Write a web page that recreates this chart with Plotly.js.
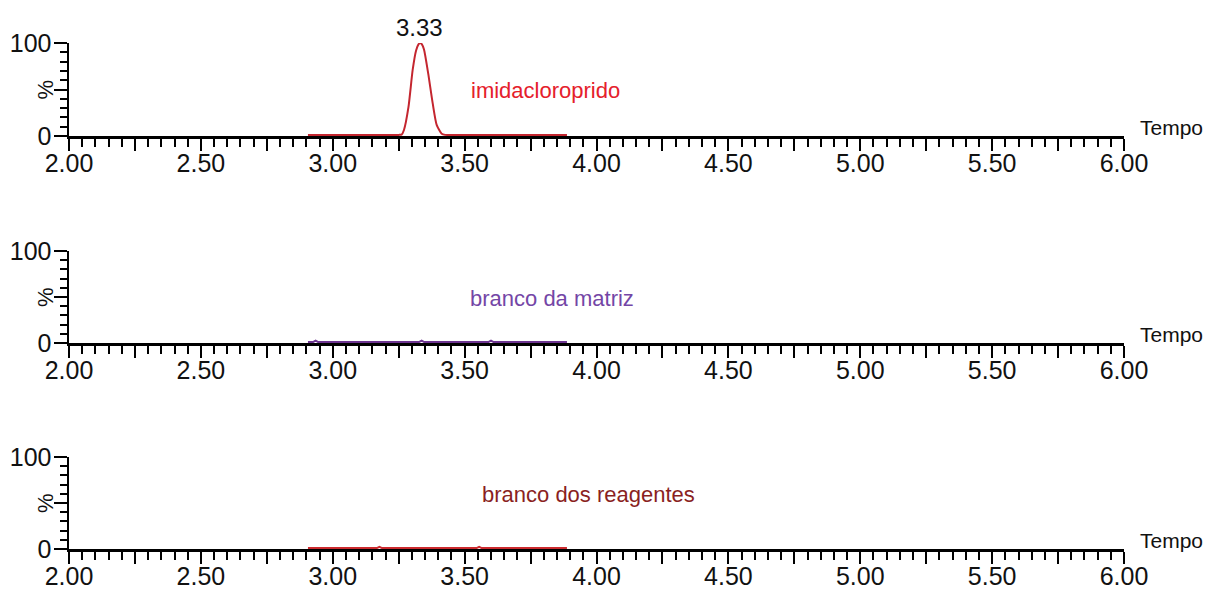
<!DOCTYPE html>
<html>
<head>
<meta charset="utf-8">
<script src="https://cdn.plot.ly/plotly-3.0.1.min.js"></script>
<style>html,body{margin:0;padding:0;background:#fff;}#chart{width:1209px;height:590px;}</style>
</head>
<body>
<div id="chart"></div>
<script>
// Data
const time1 = [2.906, 3.00, 3.10, 3.20, 3.250, 3.261, 3.270, 3.287, 3.303, 3.316, 3.325, 3.331, 3.338, 3.346, 3.362, 3.379, 3.394, 3.413, 3.426, 3.50, 3.60, 3.70, 3.80, 3.888];
const imidacloroprido = [1.2, 1.2, 1.2, 1.2, 1.2, 1.5, 6.5, 31, 71, 92, 98.5, 100, 98.5, 93, 67, 35, 12, 2.5, 1.2, 1.2, 1.2, 1.2, 1.2, 1.2];

const time2 = [2.906, 2.925, 2.935, 2.945, 3.10, 3.25, 3.327, 3.337, 3.347, 3.50, 3.590, 3.600, 3.610, 3.75, 3.888];
const brancoMatriz = [1.0, 1.0, 2.6, 1.0, 1.0, 1.0, 1.0, 2.6, 1.0, 1.0, 1.0, 2.6, 1.0, 1.0, 1.0];

const time3 = [2.906, 3.05, 3.167, 3.177, 3.187, 3.35, 3.545, 3.555, 3.565, 3.75, 3.888];
const brancoReagentes = [1.0, 1.0, 1.0, 2.4, 1.0, 1.0, 1.0, 2.4, 1.0, 1.0, 1.0];

const xTickVals = [2.00, 2.25, 2.50, 2.75, 3.00, 3.25, 3.50, 3.75, 4.00, 4.25, 4.50, 4.75, 5.00, 5.25, 5.50, 5.75, 6.00];
const xTickText = ['2.00', '', '2.50', '', '3.00', '', '3.50', '', '4.00', '', '4.50', '', '5.00', '', '5.50', '', '6.00'];
const yTickVals = [0, 50, 100];
const yTickText = ['0', '', '100'];

const peakLabel = '3.33';
const peakTime = 3.33;
const labels = ['imidacloroprido', 'branco da matriz', 'branco dos reagentes'];
const labelColors = ['#e5202b', '#7446a6', '#8a1f22'];
const lineColors = ['#c4262f', '#6d3590', '#cc2a2e'];

const FONT = 'Liberation Sans, Arial, sans-serif';
const xDom = [69 / 1209, 1124 / 1209];
const yDoms = [
  [1 - 136 / 590, 1 - 43 / 590],
  [1 - 343 / 590, 1 - 251 / 590],
  [1 - 549 / 590, 1 - 457 / 590]
];

function xaxis(anchor) {
  return {
    domain: xDom, range: [2, 6], anchor: anchor,
    showgrid: false, zeroline: false,
    showline: true, linecolor: '#000', linewidth: 2.5,
    tickmode: 'array', tickvals: xTickVals, ticktext: xTickText,
    ticks: 'outside', ticklen: 12, tickwidth: 2, tickcolor: '#000',
    ticklabelstandoff: -9,
    minor: {tickmode: 'linear', tick0: 2, dtick: 0.05, ticks: 'outside', ticklen: 8, tickwidth: 2, tickcolor: '#000', showgrid: false},
    tickfont: {family: FONT, size: 25, color: '#111'},
    fixedrange: true
  };
}
function yaxis(anchor, dom) {
  return {
    domain: dom, range: [0, 100], anchor: anchor,
    showgrid: false, zeroline: false,
    showline: true, linecolor: '#000', linewidth: 2.5,
    tickmode: 'array', tickvals: yTickVals, ticktext: yTickText,
    ticks: 'outside', ticklen: 13, tickwidth: 2, tickcolor: '#000',
    ticklabelstandoff: -3,
    minor: {tickmode: 'linear', tick0: 0, dtick: 10, ticks: 'outside', ticklen: 7, tickwidth: 2, tickcolor: '#000', showgrid: false},
    tickfont: {family: FONT, size: 25, color: '#111'},
    fixedrange: true
  };
}

const traces = [
  {x: time1, y: imidacloroprido, xaxis: 'x', yaxis: 'y', mode: 'lines', line: {color: lineColors[0], width: 2, shape: 'spline', smoothing: 0.6}, cliponaxis: false, hoverinfo: 'skip'},
  {x: time2, y: brancoMatriz, xaxis: 'x2', yaxis: 'y2', mode: 'lines', line: {color: lineColors[1], width: 2}, cliponaxis: false, hoverinfo: 'skip'},
  {x: time3, y: brancoReagentes, xaxis: 'x3', yaxis: 'y3', mode: 'lines', line: {color: lineColors[2], width: 2}, cliponaxis: false, hoverinfo: 'skip'}
];

const labelPos = [[545, 90], [552, 298], [588, 494]];
const annotations = [];
// peak label
annotations.push({xref: 'x', yref: 'y', x: peakTime, y: 100, text: peakLabel, showarrow: false, yanchor: 'bottom', yshift: 0,
  font: {family: FONT, size: 24, color: '#111'}});
for (let i = 0; i < 3; i++) {
  const ax = i === 0 ? '' : String(i + 1);
  annotations.push({xref: 'paper', yref: 'paper', x: labelPos[i][0] / 1209, y: 1 - labelPos[i][1] / 590,
    text: labels[i], showarrow: false, xanchor: 'center', yanchor: 'middle',
    font: {family: FONT, size: 22, color: labelColors[i]}});
  annotations.push({xref: 'x' + ax + ' domain', yref: 'y' + ax, x: 1, y: 0, text: 'Tempo', showarrow: false,
    xanchor: 'left', yanchor: 'bottom', xshift: 14, yshift: -5, font: {family: FONT, size: 21, color: '#111'}});
  annotations.push({xref: 'paper', yref: 'y' + ax, x: 45 / 1209, y: 50, text: '%', showarrow: false, textangle: -90,
    xanchor: 'center', yanchor: 'middle', font: {family: FONT, size: 22, color: '#111'}});
}

const layout = {
  width: 1209, height: 590,
  margin: {l: 0, r: 0, t: 0, b: 0},
  paper_bgcolor: '#fff', plot_bgcolor: '#fff',
  showlegend: false,
  xaxis: xaxis('y'), yaxis: yaxis('x', yDoms[0]),
  xaxis2: xaxis('y2'), yaxis2: yaxis('x2', yDoms[1]),
  xaxis3: xaxis('y3'), yaxis3: yaxis('x3', yDoms[2]),
  annotations: annotations
};

Plotly.newPlot('chart', traces, layout, {displayModeBar: false, staticPlot: true});
</script>
</body>
</html>
